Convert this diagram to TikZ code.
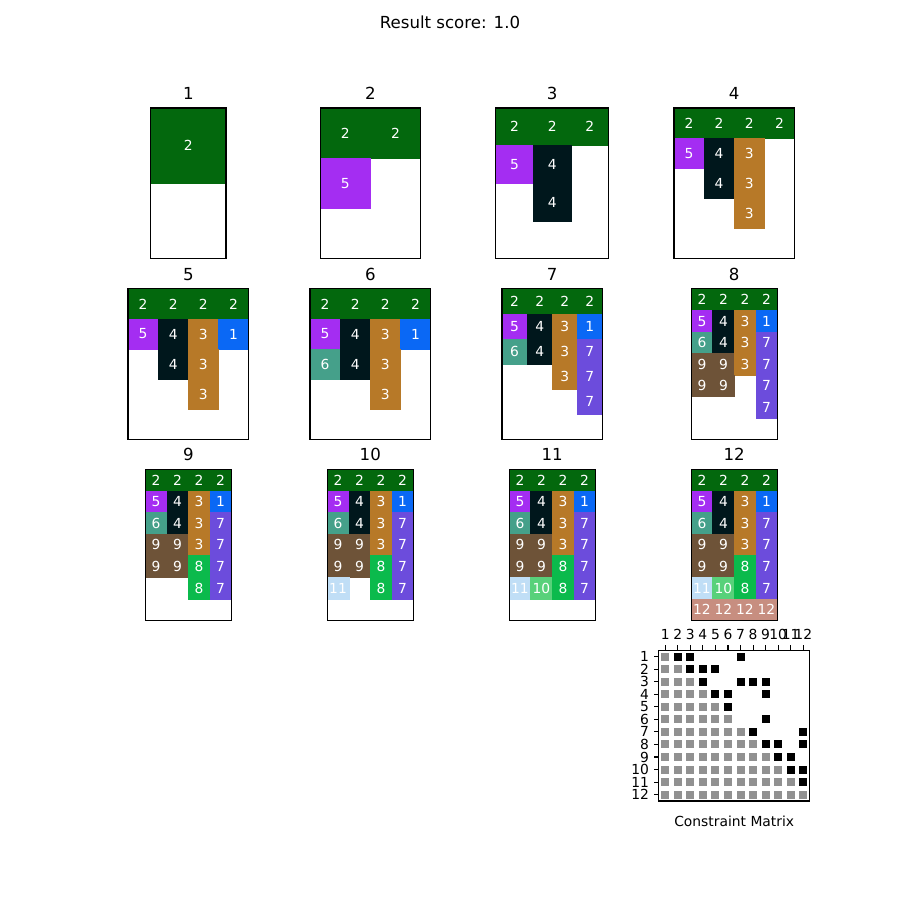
\documentclass[tikz,border=0pt]{standalone}
\usepackage{fontspec}
\setmainfont{DejaVu Sans}
\usepackage{xcolor}

\definecolor{c1}{RGB}{10,104,245}
\definecolor{c2}{RGB}{3,104,13}
\definecolor{c3}{RGB}{183,121,40}
\definecolor{c4}{RGB}{0,23,28}
\definecolor{c5}{RGB}{164,45,242}
\definecolor{c6}{RGB}{69,160,138}
\definecolor{c7}{RGB}{108,76,220}
\definecolor{c8}{RGB}{11,186,76}
\definecolor{c9}{RGB}{110,83,56}
\definecolor{c10}{RGB}{88,209,122}
\definecolor{c11}{RGB}{192,222,246}
\definecolor{c12}{RGB}{199,142,128}
\definecolor{mgray}{RGB}{145,145,145}

\tikzstyle{frame}      = [line width=0.8pt, draw=black]
\tikzstyle{celltext}   = [text=white, font=\fontsize{10}{12}\selectfont, inner sep=0pt]
\tikzstyle{paneltitle} = [font=\fontsize{12}{14}\selectfont, anchor=base, inner sep=0pt]
\tikzstyle{ticklabel}  = [font=\fontsize{10}{12}\selectfont, inner sep=0pt]
\tikzstyle{sqmark}     = [minimum size=5.76pt, inner sep=0pt, outer sep=0pt]
\tikzstyle{tick}       = [line width=0.8pt]

% #1 number, #2 x centre, #3 top, #4 columns, #5 rows, #6 rows of cell values (0 = empty)
\newcommand{\drawpanel}[6]{%
  \pgfmathsetmacro{\cellsz}{150.65/#5}
  \pgfmathsetmacro{\leftx}{#2-#4*\cellsz/2}
  \foreach \rowvals [count=\rr] in {#6} {
    \foreach \val [count=\cc] in \rowvals {
      \ifnum\val>0
        \fill[fill=c\val, draw=c\val, line width=0.3pt] ({\leftx+(\cc-1)*\cellsz},{#3+(\rr-1)*\cellsz}) rectangle ({\leftx+\cc*\cellsz},{#3+\rr*\cellsz});
        \node[celltext] (p#1-\rr-\cc) at ({\leftx+(\cc-0.5)*\cellsz},{#3+(\rr-0.5)*\cellsz}) {\val};
      \fi
    }
  }
  \draw[frame] (\leftx,#3) rectangle ({\leftx+#4*\cellsz},{#3+150.65});
  \node[paneltitle] (t#1) at (#2,{#3-8.7}) {#1};
}

\begin{document}
\begin{tikzpicture}[x=0.01in,y=-0.01in]

\fill[white] (0,0) rectangle (900,900);
\useasboundingbox (0,0) rectangle (900,900);

\node[paneltitle] (title) at (450,28.3) {Result score: 1.0};

% first row
\drawpanel{1}{188.3}{108}{1}{2}{{2},{0}}
\drawpanel{2}{370.3}{108}{2}{3}{{2,2},{5,0},{0,0}}
\drawpanel{3}{552.2}{108}{3}{4}{{2,2,2},{5,4,0},{0,4,0},{0,0,0}}
\drawpanel{4}{734.2}{108}{4}{5}{{2,2,2,2},{5,4,3,0},{0,4,3,0},{0,0,3,0},{0,0,0,0}}

% second row
\drawpanel{5}{188.3}{288.8}{4}{5}{{2,2,2,2},{5,4,3,1},{0,4,3,0},{0,0,3,0},{0,0,0,0}}
\drawpanel{6}{370.3}{288.8}{4}{5}{{2,2,2,2},{5,4,3,1},{6,4,3,0},{0,0,3,0},{0,0,0,0}}
\drawpanel{7}{552.2}{288.8}{4}{6}{{2,2,2,2},{5,4,3,1},{6,4,3,7},{0,0,3,7},{0,0,0,7},{0,0,0,0}}
\drawpanel{8}{734.2}{288.8}{4}{7}{{2,2,2,2},{5,4,3,1},{6,4,3,7},{9,9,3,7},{9,9,0,7},{0,0,0,7},{0,0,0,0}}

% third row
\drawpanel{9}{188.3}{469.6}{4}{7}{{2,2,2,2},{5,4,3,1},{6,4,3,7},{9,9,3,7},{9,9,8,7},{0,0,8,7},{0,0,0,0}}
\drawpanel{10}{370.3}{469.6}{4}{7}{{2,2,2,2},{5,4,3,1},{6,4,3,7},{9,9,3,7},{9,9,8,7},{11,0,8,7},{0,0,0,0}}
\drawpanel{11}{552.2}{469.6}{4}{7}{{2,2,2,2},{5,4,3,1},{6,4,3,7},{9,9,3,7},{9,9,8,7},{11,10,8,7},{0,0,0,0}}
\drawpanel{12}{734.2}{469.6}{4}{7}{{2,2,2,2},{5,4,3,1},{6,4,3,7},{9,9,3,7},{9,9,8,7},{11,10,8,7},{12,12,12,12}}

% constraint matrix
\foreach \i in {1,...,12} {
  \foreach \j in {1,...,\i} {
    \node[sqmark, fill=mgray] (m\i-\j) at ({658.9+(\j-0.5)*12.554},{650.3+(\i-0.5)*12.554}) {};
  }
}
\foreach \i/\cols in {1/{2,3,7},2/{3,4,5},3/{4,7,8,9},4/{5,6,9},5/{6},6/{9},7/{8,12},8/{9,10,12},9/{10,11},10/{11,12},11/{12}} {
  \foreach \j in \cols {
    \node[sqmark, fill=black] (m\i-\j) at ({658.9+(\j-0.5)*12.554},{650.3+(\i-0.5)*12.554}) {};
  }
}
\foreach \k in {1,...,12} {
  \draw[tick] ({658.9+(\k-0.5)*12.554},650.3) -- ++(0,-4.86);
  \node[ticklabel, anchor=base] (tx\k) at ({658.9+(\k-0.5)*12.554},639) {\k};
  \draw[tick] (658.9,{650.3+(\k-0.5)*12.554}) -- ++(-4.86,0);
  \node[ticklabel, anchor=east] (ty\k) at (649.2,{650.3+(\k-0.5)*12.554}) {\k};
}
\draw[frame] (658.9,650.3) rectangle (809.55,800.95);
\node[ticklabel, anchor=base] (xlab) at (734.2,826) {Constraint Matrix};

\end{tikzpicture}
\end{document}
